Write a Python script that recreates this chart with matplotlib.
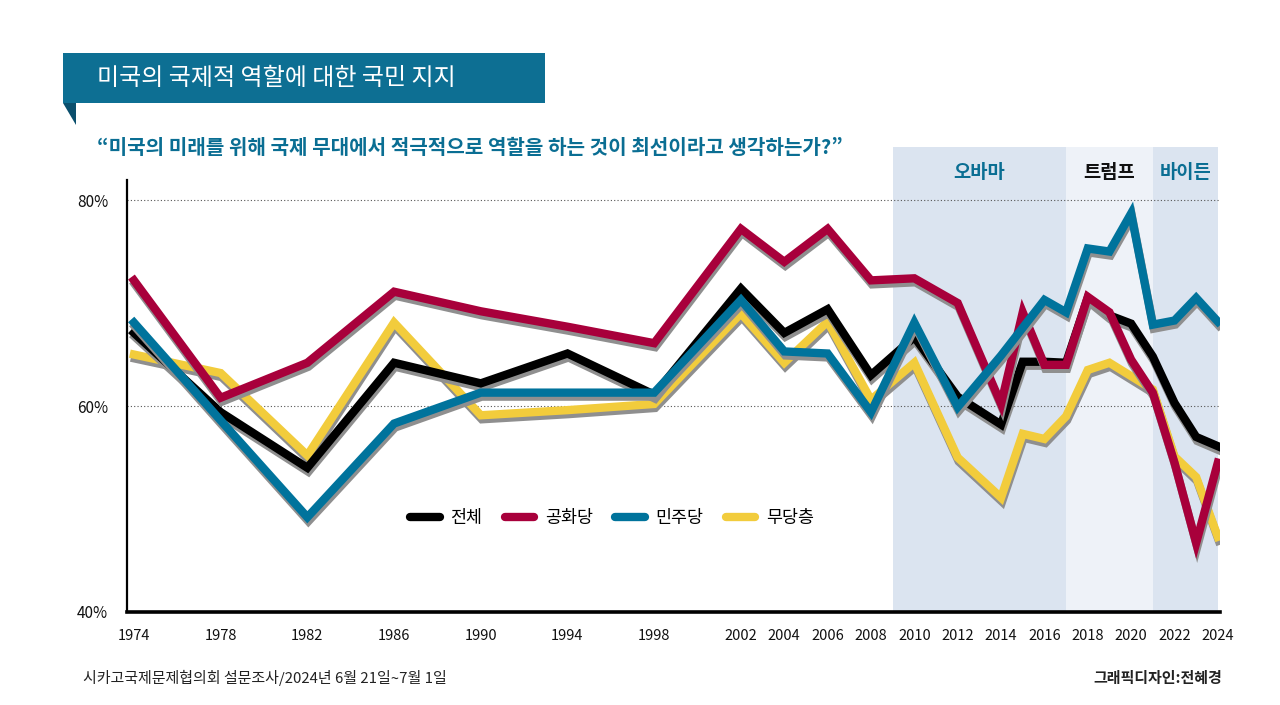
import matplotlib
matplotlib.use("Agg")
import matplotlib.pyplot as plt
from matplotlib.patches import Rectangle, Polygon
from matplotlib.lines import Line2D
from matplotlib.transforms import offset_copy

plt.rcParams['font.family'] = ['Noto Sans CJK KR', 'DejaVu Sans']

# 데이터
years_all = [1974, 1978, 1982, 1986, 1990, 1994, 1998, 2002, 2004, 2006, 2008,
             2010, 2012, 2014, 2015, 2016, 2017, 2018, 2019, 2020, 2021, 2022,
             2023, 2024]
total = [67.1, 59.4, 54.0, 64.2, 62.2, 65.1, 61.1, 71.4, 67.1, 69.4, 63.0,
         66.7, 60.9, 58.2, 64.3, 64.3, 64.2, 70.5, 68.8, 68.0, 64.8, 60.3,
         57.0, 56.1]
republican = [72.2, 60.8, 64.2, 71.1, 69.2, 67.7, 66.1, 77.2, 74.0, 77.2, 72.2,
              72.4, 70.0, 60.2, 69.1, 64.0, 64.0, 70.6, 69.1, 64.5, 61.3, 54.5,
              46.7, 54.5]
democrat = [68.1, 58.6, 49.2, 58.3, 61.3, 61.3, 61.3, 70.3, 65.3, 65.1, 59.4,
            68.1, 59.9, 64.9, None, 70.3, 69.1, 75.3, 75.0, 78.7, 67.9, 68.3,
            70.5, 68.2]
independent = [65.0, 63.2, 55.2, 68.1, 59.1, 59.6, 60.2, 69.0, 64.2, 68.2, 60.6,
               64.2, 55.0, 51.1, 57.3, 56.8, 59.0, 63.5, 64.2, 62.9, 61.6, 55.1,
               53.1, 47.3]

series_names = ["전체", "공화당", "민주당", "무당층"]
series_colors = ["#000000", "#a8003b", "#00739c", "#f2cc3c"]

periods = [("오바마", 2009, 2017, "#dbe4f0", "#0a6e93"),
           ("트럼프", 2017, 2021, "#eef2f8", "#111111"),
           ("바이든", 2021, 2024, "#dbe4f0", "#0a6e93")]

xticks = [1974, 1978, 1982, 1986, 1990, 1994, 1998, 2002, 2004, 2006, 2008,
          2010, 2012, 2014, 2016, 2018, 2020, 2022, 2024]

W, H = 1280, 705
fig = plt.figure(figsize=(W / 100, H / 100), dpi=100)


def fx(px):
    return px / W


def fy(py):
    return 1 - py / H


# 축 영역 (위쪽은 음영 박스까지)
ax = fig.add_axes([fx(127), fy(612), fx(1220) - fx(127), fy(147) - fy(612)])
ax.set_xlim(1973.68, 2024.1)
ax.set_ylim(40, 85.15)

for name, x0, x1, bg, tc in periods:
    ax.axvspan(x0, x1, color=bg, lw=0, zorder=0)
    ax.text((x0 + x1) / 2, 82.7, name, ha="center", va="center",
            fontsize=13.5, fontweight="bold", color=tc)

for yv in [60, 80]:
    ax.axhline(yv, color="#555555", lw=0.8, ls=(0, (1, 2)), zorder=1)

# 선 + 그림자 (무당층이 가장 아래)
data = [total, republican, democrat, independent]
order = [3, 0, 1, 2]
shadow = offset_copy(ax.transData, fig=fig, x=1, y=-4, units="dots")
for k, i in enumerate(order):
    xs = [x for x, v in zip(years_all, data[i]) if v is not None]
    ys = [v for v in data[i] if v is not None]
    ax.plot(xs, ys, color="#8f8f8f", lw=6, transform=shadow,
            solid_joinstyle="miter", zorder=2 + k * 2)
    ax.plot(xs, ys, color=series_colors[i], lw=6,
            solid_joinstyle="miter", zorder=3 + k * 2)

for s in ["top", "right"]:
    ax.spines[s].set_visible(False)
ax.spines["left"].set_bounds(40, 81.9)
ax.spines["left"].set_linewidth(1.6)
ax.spines["bottom"].set_linewidth(2.6)
ax.spines["left"].set_zorder(20)
ax.spines["bottom"].set_zorder(20)

ax.set_xticks(xticks)
ax.set_xticklabels([str(x) for x in xticks], fontsize=10.5, color="#111111")
ax.set_yticks([40, 60, 80])
ax.set_yticklabels(["40%", "60%", "80%"], fontsize=11, color="#111111")
ax.tick_params(length=0)
ax.tick_params(axis="x", pad=12)
ax.tick_params(axis="y", pad=13.5)

# 범례
handles = [Line2D([0], [0], color=c, lw=6, solid_capstyle="round")
           for c in series_colors]
ax.legend(handles, series_names, ncol=4, frameon=False, fontsize=12.5,
          loc="center", bbox_to_anchor=(fx(612 - 127) / (fx(1220) - fx(127)),
                                        (fy(518) - fy(612)) / (fy(147) - fy(612))),
          handlelength=1.7, columnspacing=1.3, handletextpad=0.6)

# 제목 박스
fig.add_artist(Rectangle((fx(63), fy(103)), fx(545) - fx(63), fy(53) - fy(103),
                         transform=fig.transFigure, color="#0d6f93", lw=0))
fig.add_artist(Polygon([(fx(63), fy(103)), (fx(76), fy(103)), (fx(76), fy(125))],
                       closed=True, transform=fig.transFigure,
                       color="#0a4f6d", lw=0))
fig.text(fx(97), fy(78), "미국의 국제적 역할에 대한 국민 지지", color="white",
         fontsize=17.3, va="center", ha="left")

fig.text(fx(97), fy(148),
         "\u201c미국의 미래를 위해 국제 무대에서 적극적으로 역할을 하는 것이 최선이라고 생각하는가?\u201d",
         color="#0a6e93", fontsize=14.5, fontweight="bold", va="center", ha="left")

fig.text(fx(83), fy(678), "시카고국제문제협의회 설문조사/2024년 6월 21일~7월 1일",
         fontsize=10.8, color="#222222", va="center", ha="left")
fig.text(fx(1222), fy(678), "그래픽디자인:전혜경", fontsize=10.8,
         fontweight="bold", color="#222222", va="center", ha="right")

fig.savefig("out.png", dpi=100)
